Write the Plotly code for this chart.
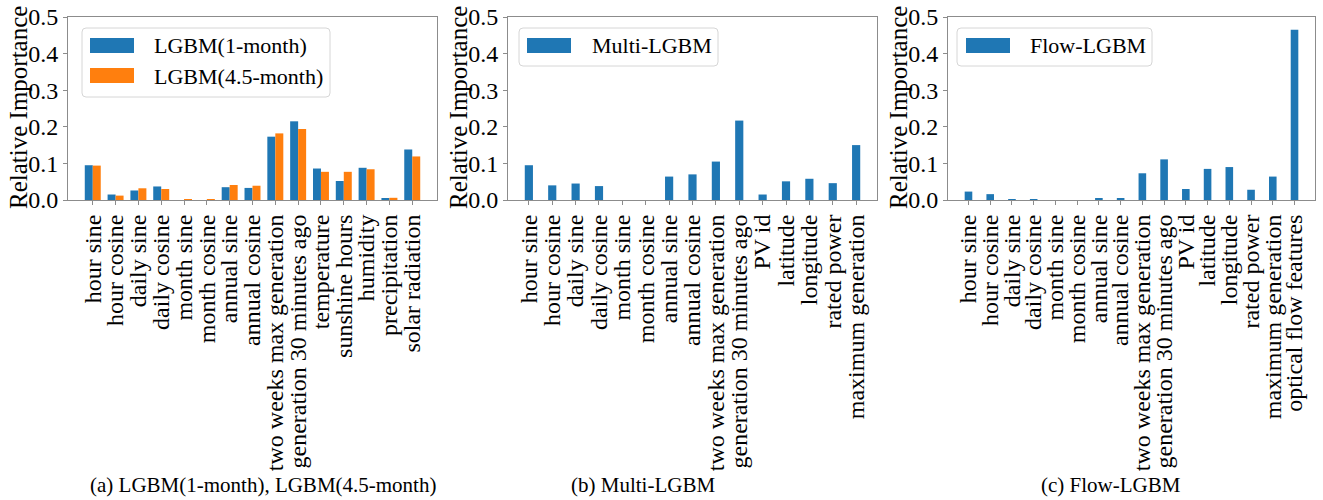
import plotly.graph_objects as go

W, H = 1323, 500

# ---- data -------------------------------------------------------------
feat_a = ["hour sine", "hour cosine", "daily sine", "daily cosine", "month sine",
          "month cosine", "annual sine", "annual cosine", "two weeks max generation",
          "generation 30 minutes ago", "temperature", "sunshine hours", "humidity",
          "precipitation", "solar radiation"]
lgbm_1m = [0.095, 0.015, 0.026, 0.037, 0.0, 0.0, 0.035, 0.033, 0.173, 0.215,
           0.086, 0.052, 0.088, 0.003, 0.138]
lgbm_45m = [0.094, 0.012, 0.032, 0.030, 0.002, 0.001, 0.041, 0.039, 0.182, 0.194,
            0.077, 0.077, 0.084, 0.006, 0.119]

feat_b = ["hour sine", "hour cosine", "daily sine", "daily cosine", "month sine",
          "month cosine", "annual sine", "annual cosine", "two weeks max generation",
          "generation 30 minutes ago", "PV id", "latitude", "longitude",
          "rated power", "maximum generation"]
multi_lgbm = [0.095, 0.040, 0.045, 0.038, 0.0, 0.0, 0.064, 0.070, 0.105, 0.217,
              0.015, 0.051, 0.058, 0.046, 0.150]

feat_c = ["hour sine", "hour cosine", "daily sine", "daily cosine", "month sine",
          "month cosine", "annual sine", "annual cosine", "two weeks max generation",
          "generation 30 minutes ago", "PV id", "latitude", "longitude",
          "rated power", "maximum generation", "optical flow features"]
flow_lgbm = [0.023, 0.016, 0.001, 0.001, 0.0, 0.0, 0.003, 0.003, 0.073, 0.111,
             0.030, 0.085, 0.090, 0.028, 0.064, 0.465]

y_ticks = [0.0, 0.1, 0.2, 0.3, 0.4, 0.5]

# ---- style ------------------------------------------------------------
BLUE = "#1f77b4"
ORANGE = "#ff7f0e"
FONT = "Liberation Serif, Times New Roman, serif"
AXIS_COLOR = "#8c8c8c"


def fx(p):
    return p / W


def fy(p):
    return 1 - p / H


fig = go.Figure()
fig.add_bar(x=feat_a, y=lgbm_1m, width=0.35, offset=-0.35, marker_color=BLUE,
            marker_line_width=0, xaxis="x", yaxis="y", name="LGBM(1-month)")
fig.add_bar(x=feat_a, y=lgbm_45m, width=0.35, offset=0.0, marker_color=ORANGE,
            marker_line_width=0, xaxis="x", yaxis="y", name="LGBM(4.5-month)")
fig.add_bar(x=feat_b, y=multi_lgbm, width=0.35, marker_color=BLUE,
            marker_line_width=0, xaxis="x2", yaxis="y2", name="Multi-LGBM")
fig.add_bar(x=feat_c, y=flow_lgbm, width=0.35, marker_color=BLUE,
            marker_line_width=0, xaxis="x3", yaxis="y3", name="Flow-LGBM")

# panel geometry in pixels: left, right of each plotting box, category range
panels = [
    (68, 437, [-1.085, 15.085], feat_a),
    (508, 877, [-0.8925, 14.8925], feat_b),
    (948, 1315, [-0.9425, 15.9425], feat_c),
]
TOP, BOTTOM = 17, 200

layout = dict(
    width=W, height=H,
    margin=dict(l=0, r=0, t=0, b=0),
    paper_bgcolor="white", plot_bgcolor="white",
    showlegend=False, barmode="overlay",
    font=dict(family=FONT, color="black"),
)

for i, (x0, x1, rng, cats) in enumerate(panels):
    sfx = "" if i == 0 else str(i + 1)
    layout["xaxis" + sfx] = dict(
        type="category", domain=[fx(x0), fx(x1)], range=rng,
        tickmode="array", tickvals=cats, ticktext=cats,
        anchor="y" + sfx, showline=True, mirror=True, linecolor=AXIS_COLOR,
        linewidth=1, ticks="outside", ticklen=4, tickcolor=AXIS_COLOR,
        tickangle=-90, tickfont=dict(size=24, family=FONT, color="black"),
        showgrid=False, zeroline=False, automargin=False,
    )
    layout["yaxis" + sfx] = dict(
        domain=[fy(BOTTOM), fy(TOP)], range=[0, 0.5],
        tickmode="array", tickvals=y_ticks, tickformat=".1f",
        anchor="x" + sfx, showline=True, mirror=True, linecolor=AXIS_COLOR,
        linewidth=1, ticks="outside", ticklen=4, tickcolor=AXIS_COLOR,
        tickfont=dict(size=24, family=FONT, color="black"),
        showgrid=False, zeroline=False, automargin=False,
    )

fig.update_layout(**layout)


def rounded_box(x0, y0, x1, y1, r=4):
    X0, X1 = fx(x0), fx(x1)
    Y0, Y1 = fy(y0), fy(y1)
    rx, ry = r / W, r / H
    return (f"M{X0 + rx},{Y0} L{X1 - rx},{Y0} Q{X1},{Y0} {X1},{Y0 - ry} "
            f"L{X1},{Y1 + ry} Q{X1},{Y1} {X1 - rx},{Y1} "
            f"L{X0 + rx},{Y1} Q{X0},{Y1} {X0},{Y1 + ry} "
            f"L{X0},{Y0 - ry} Q{X0},{Y0} {X0 + rx},{Y0} Z")


shapes = []
annotations = []

# legends: (box, [(swatch_top, colour, label)], swatch_x, text_x)
legends = [
    ((82, 28, 330, 97), [(38, BLUE, "LGBM(1-month)"), (68, ORANGE, "LGBM(4.5-month)")], 90, 152),
    ((519, 28, 718, 66), [(38, BLUE, "Multi-LGBM")], 527, 590),
    ((957, 28, 1152, 66), [(38, BLUE, "Flow-LGBM")], 966, 1028),
]
for (bx0, by0, bx1, by1), items, sx, tx in legends:
    shapes.append(dict(type="path", path=rounded_box(bx0, by0, bx1, by1),
                       xref="paper", yref="paper", fillcolor="white",
                       line=dict(color="#d6d6d6", width=1), layer="above"))
    for top, col, label in items:
        shapes.append(dict(type="rect", xref="paper", yref="paper",
                           x0=fx(sx), x1=fx(sx + 44), y0=fy(top + 15), y1=fy(top),
                           fillcolor=col, line=dict(width=0), layer="above"))
        annotations.append(dict(text=label, xref="paper", yref="paper",
                                x=fx(tx), y=fy(top + 8), xanchor="left",
                                yanchor="middle", showarrow=False,
                                font=dict(size=22, family=FONT, color="black")))

# y-axis titles
for x0, _, _, _ in panels:
    annotations.append(dict(text="Relative Importance", xref="paper", yref="paper",
                            x=fx(x0 - 49), y=fy(108), textangle=-90,
                            xanchor="center", yanchor="middle", showarrow=False,
                            font=dict(size=25, family=FONT, color="black")))

# sub-figure captions
captions = [("(a) LGBM(1-month), LGBM(4.5-month)", 263),
            ("(b) Multi-LGBM", 643),
            ("(c) Flow-LGBM", 1111)]
for text, cx in captions:
    annotations.append(dict(text=text, xref="paper", yref="paper",
                            x=fx(cx), y=fy(485), xanchor="center",
                            yanchor="middle", showarrow=False,
                            font=dict(size=21, family=FONT, color="black")))

fig.update_layout(shapes=shapes, annotations=annotations)

fig.write_html("out.html")
